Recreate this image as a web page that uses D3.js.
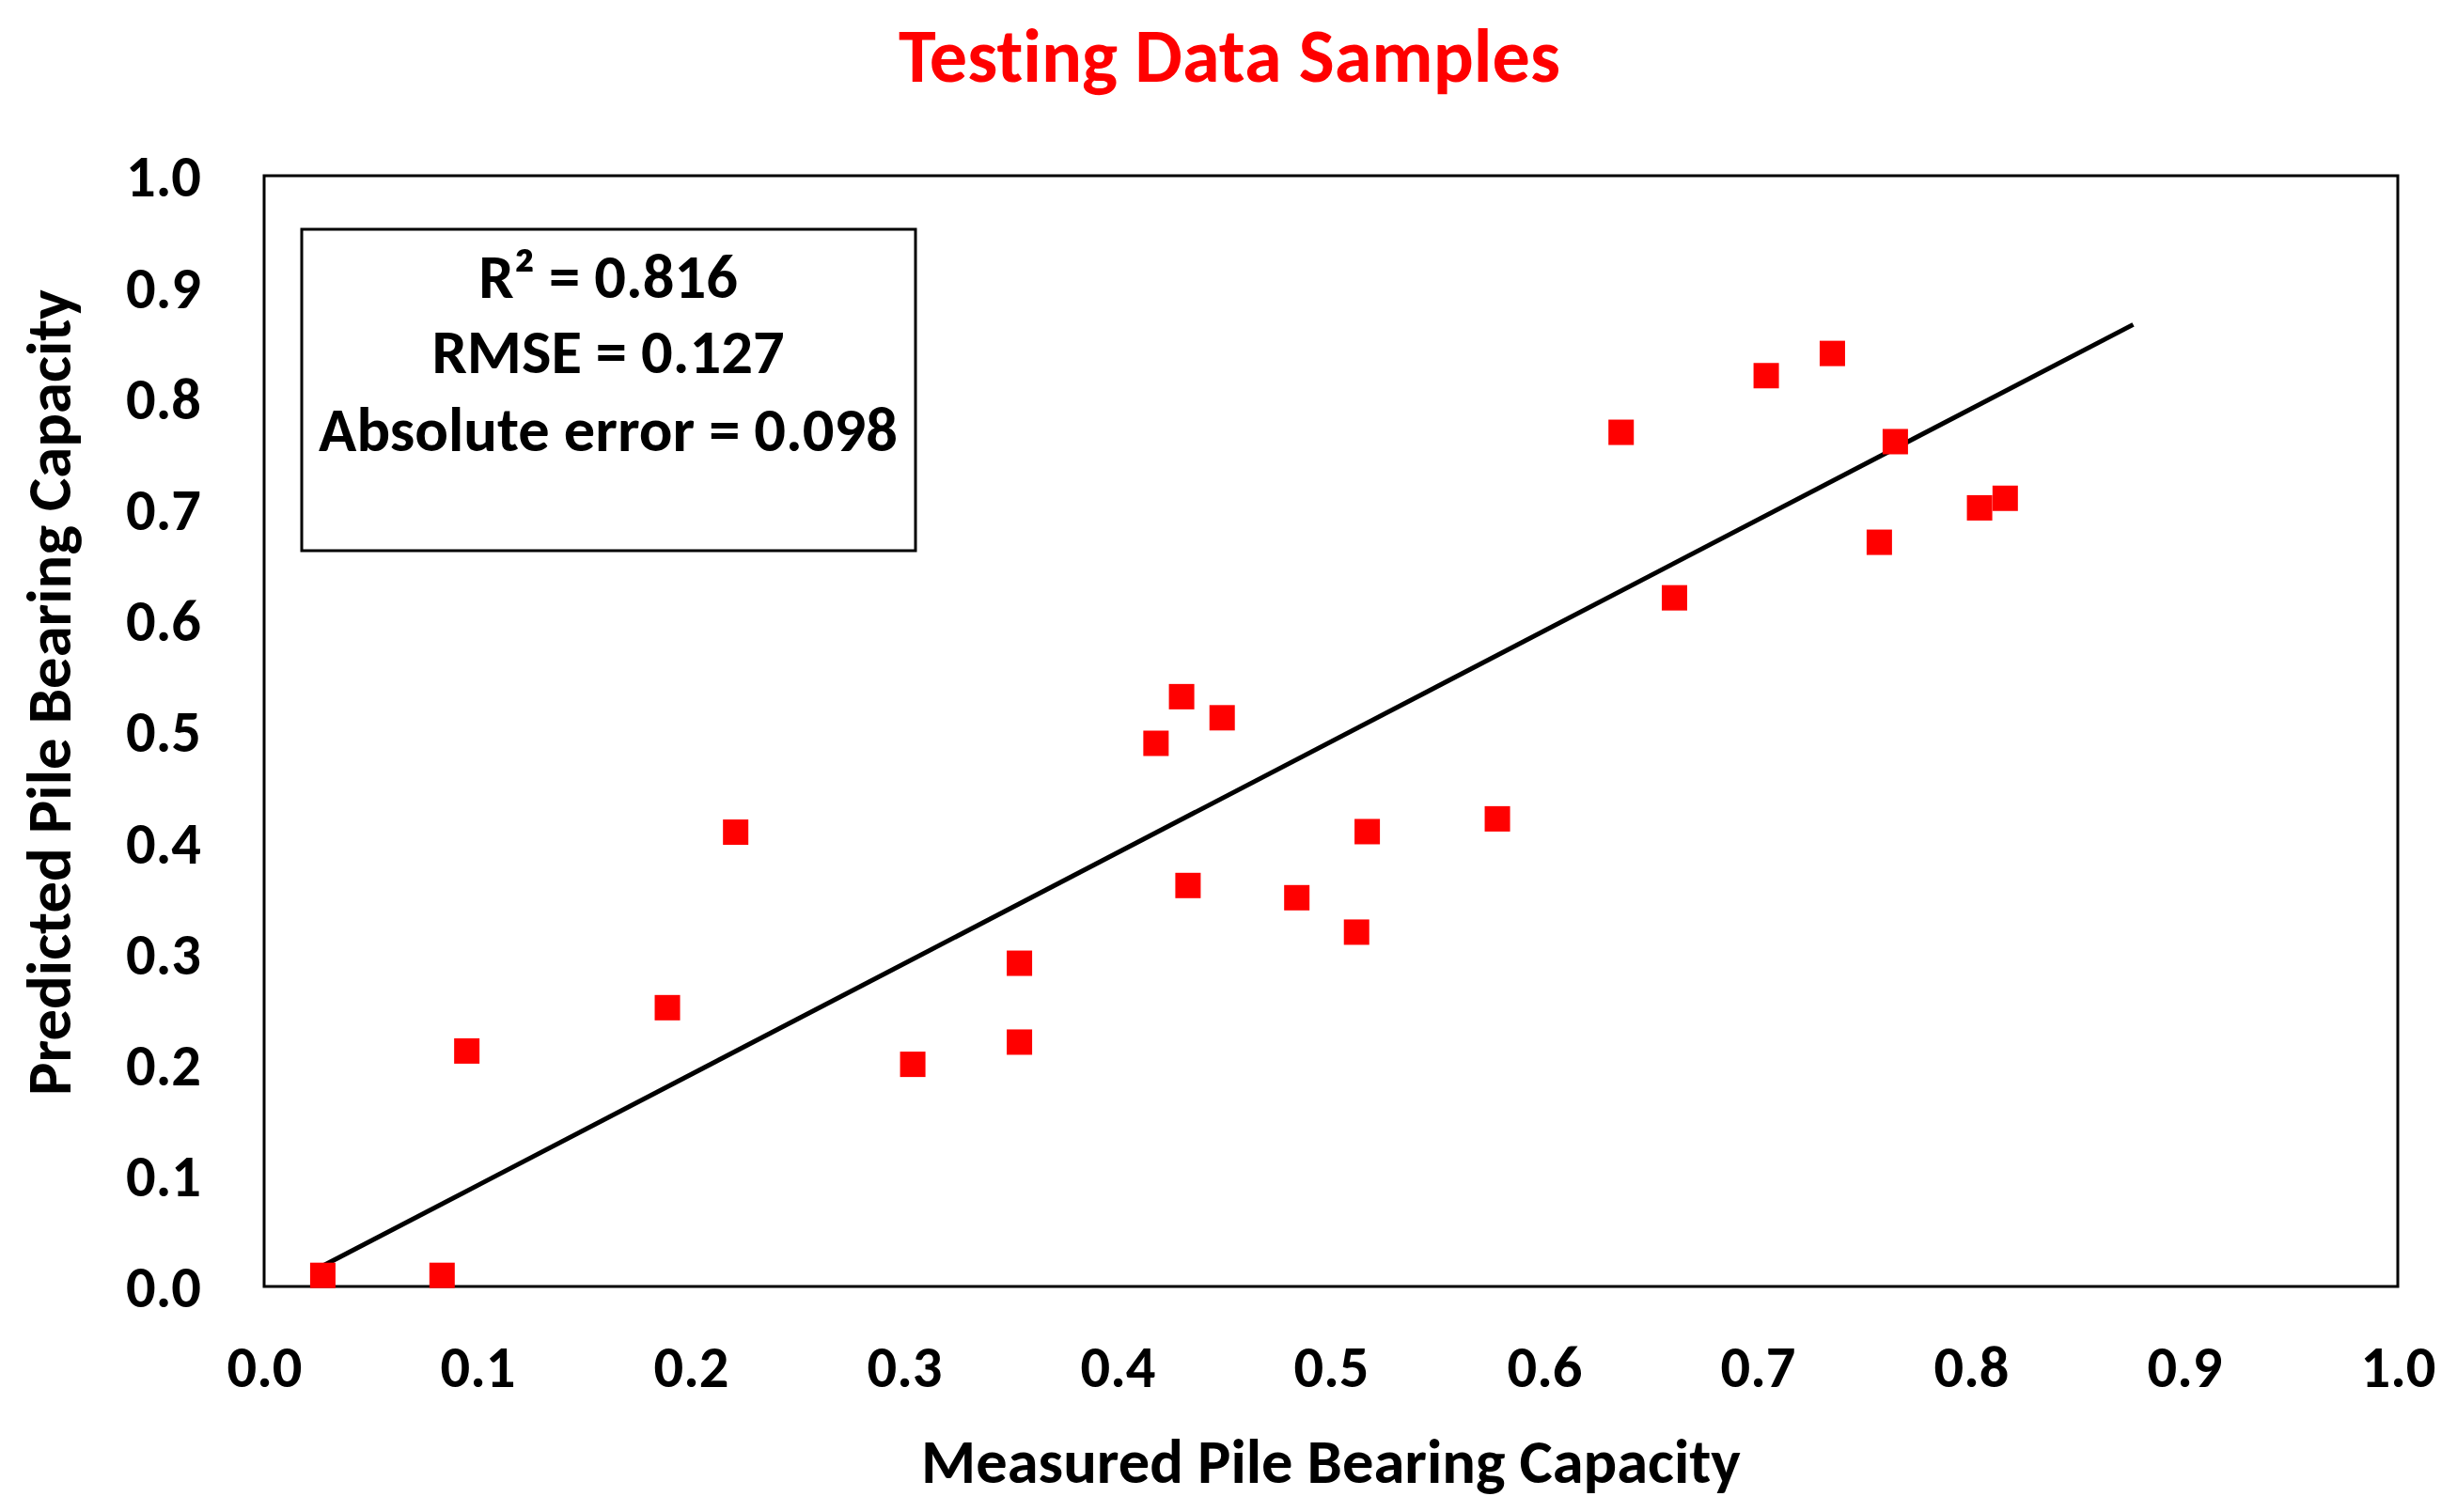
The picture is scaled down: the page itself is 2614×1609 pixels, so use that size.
<!DOCTYPE html>
<html>
<head>
<meta charset="utf-8">
<script src="https://cdn.jsdelivr.net/npm/d3@7"></script>
<style>
  html, body { margin: 0; padding: 0; background: #fff; }
  svg { display: block; }
  text { font-variant-ligatures: none; font-feature-settings: "liga" 0, "clig" 0; }
</style>
</head>
<body>
<svg id="chart" width="2614" height="1609"></svg>
<script>
// ---- data ----
const measured = [0.0275, 0.0834, 0.095, 0.189, 0.221, 0.304, 0.354, 0.354, 0.418, 0.430,
                  0.449, 0.433, 0.484, 0.512, 0.517, 0.578, 0.636, 0.661, 0.704, 0.735,
                  0.757, 0.7645, 0.804, 0.816];
const predicted = [0.010, 0.010, 0.212, 0.251, 0.409, 0.200, 0.291, 0.220, 0.489, 0.531,
                   0.512, 0.361, 0.350, 0.319, 0.4095, 0.421, 0.769, 0.620, 0.820, 0.840,
                   0.670, 0.7606, 0.701, 0.7096];
const fitLineX = [0.028, 0.876];
const fitLineY = [0.019, 0.866];
const xTicks = [0, 0.1, 0.2, 0.3, 0.4, 0.5, 0.6, 0.7, 0.8, 0.9, 1.0];
const yTicks = [0, 0.1, 0.2, 0.3, 0.4, 0.5, 0.6, 0.7, 0.8, 0.9, 1.0];
const statLines = ["R\u00B2 = 0.816", "RMSE = 0.127", "Absolute error = 0.098"];
const titleText = "Testing Data Samples";
const xTitle = "Measured Pile Bearing Capacity";
const yTitle = "Predicted Pile Bearing Capacity";

// ---- layout ----
const FONT = "Carlito, Calibri, Lato, 'Open Sans', sans-serif";
const plot = { left: 281, right: 2551, top: 187, bottom: 1369 };
const svg = d3.select("#chart");

const x = d3.scaleLinear().domain([0, 1]).range([plot.left, plot.right]);
const y = d3.scaleLinear().domain([0, 1]).range([plot.bottom, plot.top]);

function fitWidth(sel, target) {
  const w = sel.node().getComputedTextLength();
  const fs = parseFloat(sel.attr("font-size"));
  return fs * target / w;
}

// plot frame
svg.append("rect")
  .attr("x", plot.left).attr("y", plot.top)
  .attr("width", plot.right - plot.left).attr("height", plot.bottom - plot.top)
  .attr("fill", "none").attr("stroke", "#000").attr("stroke-width", 3);

// axes (labels only, no tick marks)
const fmt = d3.format(".1f");
const xAxis = d3.axisBottom(x).tickValues(xTicks).tickFormat(fmt).tickSize(0).tickPadding(0);
const yAxis = d3.axisLeft(y).tickValues(yTicks).tickFormat(fmt).tickSize(0).tickPadding(0);

const gx = svg.append("g").attr("transform", `translate(0,${plot.bottom})`).call(xAxis);
const gy = svg.append("g").attr("transform", `translate(${plot.left},0)`).call(yAxis);
[gx, gy].forEach(g => {
  g.select(".domain").remove();
  g.selectAll("text")
    .attr("font-family", FONT).attr("font-weight", "bold")
    .attr("font-size", 58).attr("fill", "#000");
});
// size tick labels so "1.0" is ~80px wide
const refTick = gy.selectAll("text").filter(d => d === 1.0);
const tickFs = fitWidth(refTick, 80);
[gx, gy].forEach(g => g.selectAll("text").attr("font-size", tickFs));
gx.selectAll("text").attr("dy", null).attr("y", 1476 - plot.bottom);
gy.selectAll("text").attr("dy", "0.35em").attr("x", 214 - plot.left).attr("text-anchor", "end");

// stats box
svg.append("rect")
  .attr("x", 321).attr("y", 244).attr("width", 974 - 321).attr("height", 586 - 244)
  .attr("fill", "#fff").attr("stroke", "#000").attr("stroke-width", 3);
const baselines = [317, 397, 480];
const st = svg.append("g").selectAll("text").data(statLines).join("text")
  .attr("x", 647).attr("y", (d, i) => baselines[i])
  .attr("text-anchor", "middle")
  .attr("font-family", FONT).attr("font-weight", "bold")
  .attr("font-size", 60).attr("fill", "#000")
  .text(d => d);
const statFs = fitWidth(st.filter((d, i) => i === 2), 616);
st.attr("font-size", statFs);

// regression line
const line = d3.line().x(d => x(d[0])).y(d => y(d[1]));
svg.append("path")
  .datum(fitLineX.map((v, i) => [v, fitLineY[i]]))
  .attr("d", line)
  .attr("fill", "none").attr("stroke", "#000").attr("stroke-width", 5);

// points
const S = 27;
svg.append("g").selectAll("rect").data(measured.map((v, i) => [v, predicted[i]])).join("rect")
  .attr("x", d => x(d[0]) - S / 2).attr("y", d => y(d[1]) - S / 2)
  .attr("width", S).attr("height", S)
  .attr("fill", "#ff0000");

// title
const t = svg.append("text")
  .attr("x", 1308).attr("y", 87).attr("text-anchor", "middle")
  .attr("font-family", FONT).attr("font-weight", "bold")
  .attr("font-size", 70).attr("fill", "#ff0000").text(titleText);
t.attr("font-size", fitWidth(t, 704));

// axis titles
const xt = svg.append("text")
  .attr("x", (plot.left + plot.right) / 2).attr("y", 1578).attr("text-anchor", "middle")
  .attr("font-family", FONT).attr("font-weight", "bold")
  .attr("font-size", 60).attr("fill", "#000").text(xTitle);
xt.attr("font-size", fitWidth(xt, 872));

const yt = svg.append("text")
  .attr("transform", "translate(75,737) rotate(-90)").attr("text-anchor", "middle")
  .attr("font-family", FONT).attr("font-weight", "bold")
  .attr("font-size", 60).attr("fill", "#000").text(yTitle);
yt.attr("font-size", fitWidth(yt, 858));
</script>
</body>
</html>
